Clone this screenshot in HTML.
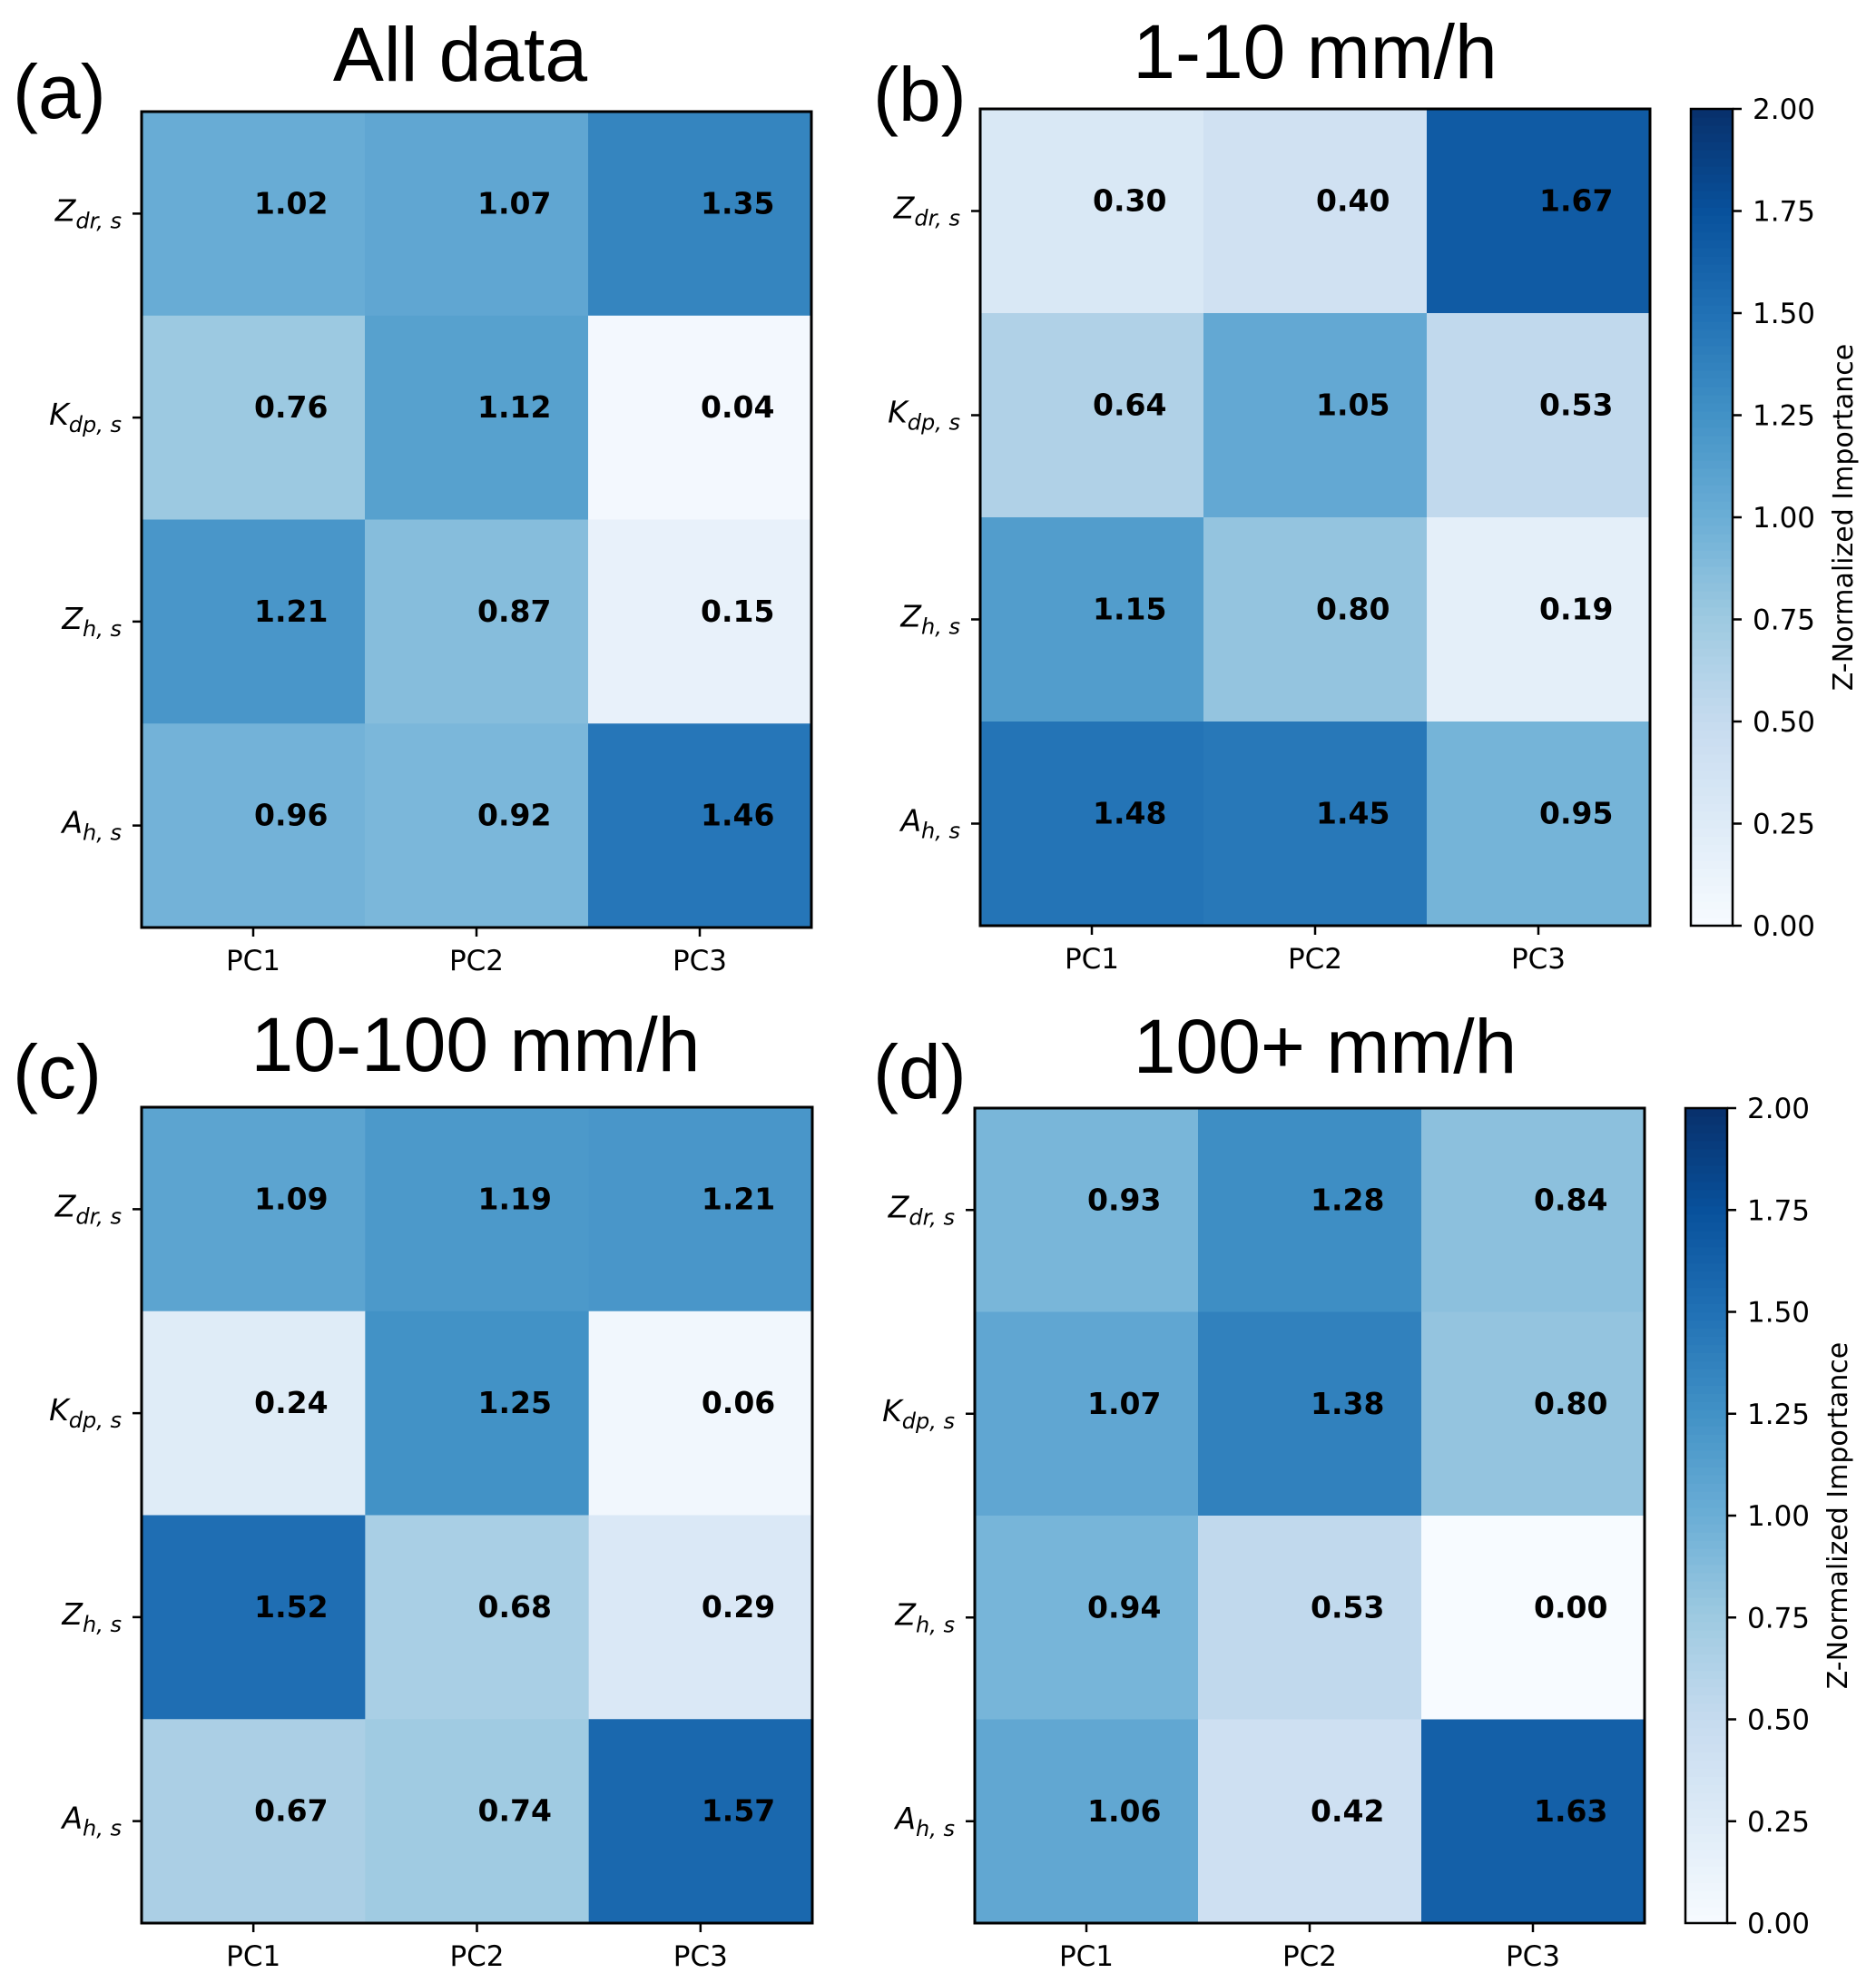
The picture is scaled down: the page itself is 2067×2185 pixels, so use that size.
<!DOCTYPE html>
<html><head><meta charset="utf-8">
<style>
html,body{margin:0;padding:0;background:#fff;}
svg{display:block;}
</style></head>
<body>
<svg id="fig" width="2067" height="2185" xmlns="http://www.w3.org/2000/svg"></svg>
<script>
const rowLabels = ["dr, s","dp, s","h, s","h, s"];
const rowBase = ["Z","K","Z","A"];
const colLabels = ["PC1","PC2","PC3"];
const cbTicks = [0,0.25,0.5,0.75,1.0,1.25,1.5,1.75,2.0];
const valsA = [[1.02,1.07,1.35],[0.76,1.12,0.04],[1.21,0.87,0.15],[0.96,0.92,1.46]];
const valsB = [[0.30,0.40,1.67],[0.64,1.05,0.53],[1.15,0.80,0.19],[1.48,1.45,0.95]];
const valsC = [[1.09,1.19,1.21],[0.24,1.25,0.06],[1.52,0.68,0.29],[0.67,0.74,1.57]];
const valsD = [[0.93,1.28,0.84],[1.07,1.38,0.80],[0.94,0.53,0.00],[1.06,0.42,1.63]];
const titles = ["All data","1-10 mm/h","10-100 mm/h","100+ mm/h"];
const tags = ["(a)","(b)","(c)","(d)"];

const NS="http://www.w3.org/2000/svg";
const svg=document.getElementById('fig');
const blues=["#f7fbff","#deebf7","#c6dbef","#9ecae1","#6baed6","#4292c6","#2171b5","#08519c","#08306b"];
function hex(h){return [1,3,5].map(i=>parseInt(h.substr(i,2),16));}
function cmap(v){let t=Math.max(0,Math.min(1,v/2))*8;let i=Math.min(7,Math.floor(t));let f=t-i;
 const a=hex(blues[i]),b=hex(blues[i+1]);return 'rgb('+a.map((x,k)=>Math.round(x+(b[k]-x)*f)).join(',')+')';}
function el(tag,attrs,parent){const e=document.createElementNS(NS,tag);for(const k in attrs)e.setAttribute(k,attrs[k]);(parent||svg).appendChild(e);return e;}

const panels=[
 {v:valsA,x:156,y:123,w:738,h:899,cb:false,tx:507,ty:89,lx:14,ly:130},
 {v:valsB,x:1080,y:120,w:738,h:900,cb:true,cx:1863,tx:1449,ty:86,lx:962,ly:133},
 {v:valsC,x:156,y:1220,w:739,h:899,cb:false,tx:524,ty:1180,lx:14,ly:1210},
 {v:valsD,x:1074,y:1221,w:738,h:898,cb:true,cx:1857,tx:1460,ty:1182,lx:962,ly:1210}
];
panels.forEach((p,pi)=>{
 const g=el('g',{});
 
 
 const cw=p.w/colLabels.length, ch=p.h/rowBase.length;
 const xs=j=>p.x+j*cw, ys=i=>p.y+i*ch;
 p.v.forEach((row,i)=>row.forEach((val,j)=>{
  const r=el('rect',{x:xs(j),y:ys(i),width:cw+0.5,height:ch+0.5,fill:cmap(val)},g);
  
  
  const t=el('text',{x:xs(j)+cw/2+1,y:ys(i)+ch/2,'font-family':'DejaVu Sans, sans-serif','font-weight':'bold','font-size':'33',fill:'#000'},g);
  t.textContent=val.toFixed(2);
  
  
 }));
 el('rect',{x:p.x,y:p.y,width:p.w,height:p.h,fill:'none',stroke:'#000','stroke-width':3},g);
 colLabels.forEach((c,j)=>{
  const cx=xs(j)+cw/2;
  el('line',{x1:cx,x2:cx,y1:p.y+p.h,y2:p.y+p.h+10,stroke:'#000','stroke-width':2.5},g);
  const t=el('text',{x:cx,y:p.y+p.h+47,'text-anchor':'middle','font-family':'DejaVu Sans, sans-serif','font-size':'31'},g);
  t.textContent=c;
  
  
 });
 rowBase.forEach((b,i)=>{
  const cy=ys(i)+ch/2;
  el('line',{x1:p.x-10,x2:p.x,y1:cy,y2:cy,stroke:'#000','stroke-width':2.5},g);
  const t=el('text',{x:p.x-22,y:cy+8,'text-anchor':'end','font-family':'DejaVu Sans, sans-serif','font-style':'italic','font-size':'33'},g);
  
  
  const s1=el('tspan',{},t);s1.textContent=b;
  const s2=el('tspan',{'font-size':'24',dy:'8'},t);s2.textContent=rowLabels[i];
 });
 const tt=el('text',{x:p.tx,y:p.ty,'text-anchor':'middle','font-family':'Liberation Sans, sans-serif','font-size':'84'},g);
 tt.textContent=titles[pi];
 
 
 const tg=el('text',{x:p.lx,y:p.ly,'font-family':'Liberation Sans, sans-serif','font-size':'84'},g);
 tg.textContent=tags[pi];
 
 
 if(p.cb){
  const cbw=46;
  const N=100;
  for(let k=0;k<N;k++){
   el('rect',{x:p.cx,y:p.y+p.h-(k+1)*p.h/N,width:cbw,height:p.h/N+0.6,fill:cmap((k+0.5)/N*2)},g);
  }
  const cbf=el('rect',{x:p.cx,y:p.y,width:cbw,height:p.h,fill:'none',stroke:'#000','stroke-width':2.5},g);
  
  
  cbTicks.forEach(v=>{
   const yy=p.y+p.h-v/2*p.h;
   el('line',{x1:p.cx+cbw,x2:p.cx+cbw+10,y1:yy,y2:yy,stroke:'#000','stroke-width':2.5},g);
   const t=el('text',{x:p.cx+cbw+22,y:yy+11,'font-family':'DejaVu Sans, sans-serif','font-size':'31'},g);
   t.textContent=v.toFixed(2);
   
   
  });
  const ly=p.y+p.h/2;
  const lt=el('text',{x:0,y:0,'text-anchor':'middle','font-family':'DejaVu Sans, sans-serif','font-size':'30',transform:'translate('+(p.cx+cbw+132)+','+ly+') rotate(-90)'},g);
  lt.textContent='Z-Normalized Importance';
  
  
 }
});
</script>
</body></html>
